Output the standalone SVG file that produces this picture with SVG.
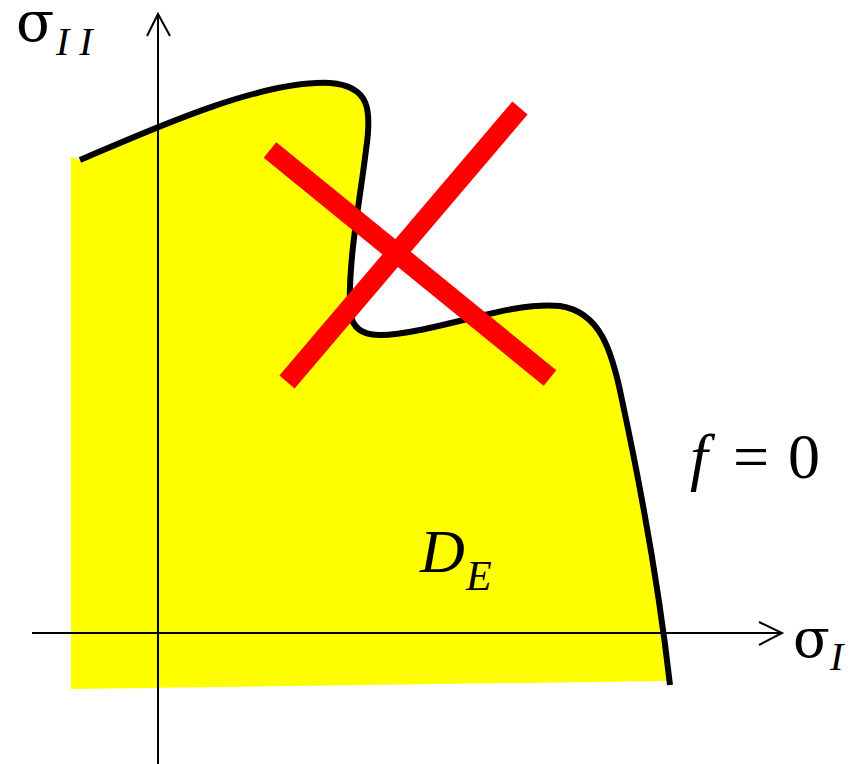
<svg xmlns="http://www.w3.org/2000/svg" width="861" height="764" viewBox="0 0 861 764">
<style>
.t{font-family:"Liberation Serif","Times New Roman",serif;fill:#000}
.s{font-family:"DejaVu Serif",serif;fill:#000}
.i{font-style:italic}
.ax{stroke:#000;stroke-width:2;fill:none}
</style>
<rect width="861" height="764" fill="#fff"/>
<g id="region">
<path d="M71,157 L80,160 C150,130 260,80 330,83 C370,86 372,110 366,150 C360,200 348,260 350,310 C352,340 380,338 420,330 C470,320 520,302 560,306 C600,312 612,350 622,400 C637,470 657,570 667,681 L71,689 Z" fill="#ffff00"/>
</g>
<g id="axes">
<line class="ax" x1="158" y1="764" x2="158" y2="14"/>
<polyline class="ax" points="147,36 158,14 170,36"/>
<line class="ax" x1="32" y1="633" x2="782" y2="633"/>
<polyline class="ax" points="759,622 782,633 759,645"/>
</g>
<g id="curve">
<path d="M80,160 C150,130 260,80 330,83 C370,86 372,110 366,150 C360,200 348,260 350,310 C352,340 380,338 420,330 C470,320 520,302 560,306 C600,312 612,350 622,400 C637,470 657,570 670,685" fill="none" stroke="#000" stroke-width="6"/>
</g>
<g id="cross">
<line x1="270" y1="150" x2="550" y2="378" stroke="#ff0000" stroke-width="20"/>
<line x1="287" y1="382" x2="520" y2="108" stroke="#ff0000" stroke-width="20"/>
</g>
<g id="labels">
<text class="s" x="16" y="41" font-size="56">σ</text>
<text class="t i" x="56" y="55" font-size="40">I I</text>
<text class="t i" x="690" y="478" font-size="64">f</text>
<text class="t" x="733" y="478" font-size="64">=</text>
<text class="t" x="788" y="478" font-size="64">0</text>
<text class="s" x="793" y="657" font-size="54">σ</text>
<text class="t i" x="830" y="670" font-size="40">I</text>
<text class="t i" x="420" y="572" font-size="62">D</text>
<text class="t i" x="466" y="590" font-size="42">E</text>
</g>
</svg>
